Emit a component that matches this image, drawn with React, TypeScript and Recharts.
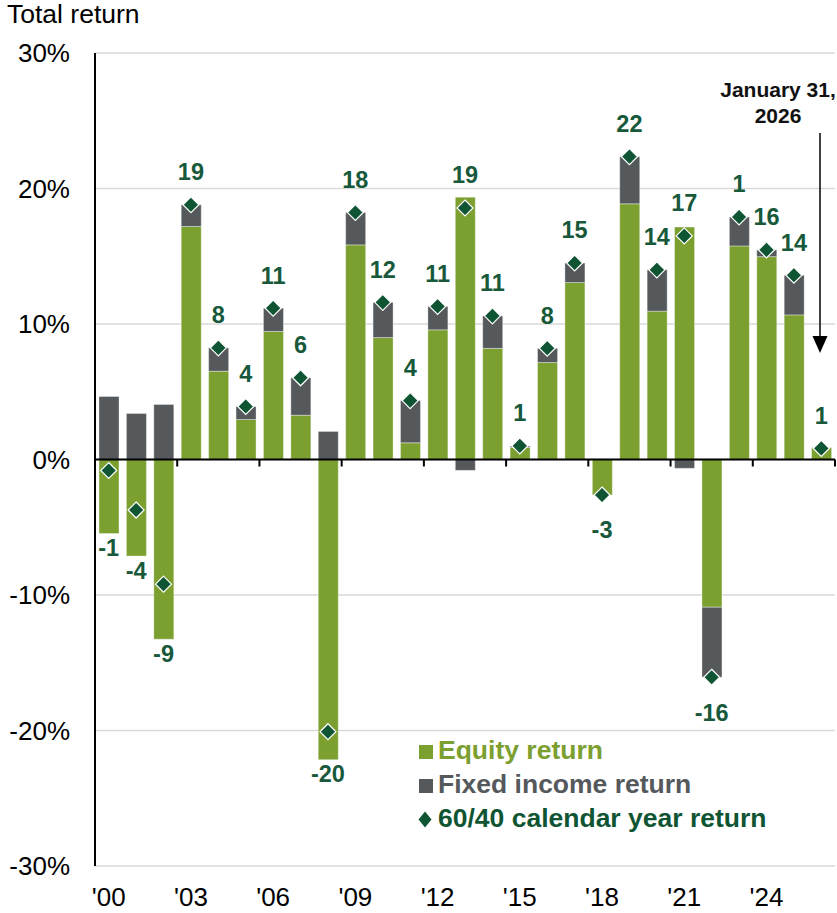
import React from 'react';
import { ComposedChart, Bar, Line, XAxis, YAxis, CartesianGrid, ReferenceLine } from 'recharts';

const years = [2000, 2001, 2002, 2003, 2004, 2005, 2006, 2007, 2008, 2009, 2010, 2011, 2012, 2013, 2014, 2015, 2016, 2017, 2018, 2019, 2020, 2021, 2022, 2023, 2024, 2025, 2026];
const equityReturn = [-5.46, -7.13, -13.26, 17.2, 6.52, 2.95, 9.45, 3.27, -22.16, 15.84, 9.0, 1.23, 9.57, 19.36, 8.2, 0.9, 7.16, 13.06, -2.62, 18.87, 10.95, 17.15, -10.9, 15.76, 14.97, 10.67, 0.87];
const fixedIncomeReturn = [4.65, 3.4, 4.06, 1.6, 1.72, 0.96, 1.72, 2.76, 2.07, 2.39, 2.6, 3.12, 1.73, -0.8, 2.4, 0.1, 1.05, 1.44, 0.0, 3.48, 3.05, -0.65, -5.17, 2.14, 0.5, 2.93, 0.0];
const portfolioReturn = [-0.81, -3.73, -9.2, 18.8, 8.24, 3.91, 11.17, 6.03, -20.09, 18.23, 11.6, 4.35, 11.3, 18.56, 10.6, 1.0, 8.21, 14.5, -2.62, 22.35, 14.0, 16.5, -16.07, 17.9, 15.47, 13.6, 0.82];
const returnLabels = ['-1', '-4', '-9', '19', '8', '4', '11', '6', '-20', '18', '12', '4', '11', '19', '11', '1', '8', '15', '-3', '22', '14', '17', '-16', '1', '16', '14', '1'];
const tickYears = [2000, 2003, 2006, 2009, 2012, 2015, 2018, 2021, 2024];
const tickLabels = ["'00", "'03", "'06", "'09", "'12", "'15", "'18", "'21", "'24"];
const yTicks = [-30, -20, -10, 0, 10, 20, 30];
const yTickLabels = ['-30%', '-20%', '-10%', '0%', '10%', '20%', '30%'];

const data = years.map((year, i) => ({
  year,
  equity: equityReturn[i],
  fixedIncome: fixedIncomeReturn[i],
  portfolio: portfolioReturn[i],
  label: returnLabels[i],
}));

const FONT = '"Liberation Sans", Arial, Helvetica, sans-serif';
const GREEN = '#7BA030';
const GRAY = '#55595C';
const DARK_GREEN = '#0F5533';
const LABEL_GREEN = '#17593A';

const W = 837;
const H = 913;
const MARGIN = { top: 53, right: 2, left: 0, bottom: 7 };
const Y_AXIS_W = 95;
const X_AXIS_H = 40;
const PLOT_H = H - MARGIN.top - MARGIN.bottom - X_AXIS_H;
const Y_MIN = -30;
const Y_MAX = 30;
const PX_PER_UNIT = PLOT_H / (Y_MAX - Y_MIN);

const renderDiamond = (props: any) => {
  const { cx, cy, index, payload } = props;
  if (cx == null || cy == null) return <g key={`d-${index}`} />;
  const r = 8;
  const total = payload.portfolio;
  let ly: number;
  if (total >= 0) {
    ly = cy - 33;
  } else {
    const barBottom = Math.min(0, payload.equity) + Math.min(0, payload.fixedIncome);
    const barBottomPx = cy + (total - barBottom) * PX_PER_UNIT;
    ly = Math.max(barBottomPx + 14, cy + 35);
  }
  return (
    <g key={`d-${index}`}>
      <path
        d={`M${cx},${cy - r} L${cx + r},${cy} L${cx},${cy + r} L${cx - r},${cy} Z`}
        fill={DARK_GREEN}
        stroke="#ffffff"
        strokeWidth={1.2}
      />
      <text
        x={cx}
        y={ly}
        dy="0.36em"
        textAnchor="middle"
        fontFamily={FONT}
        fontWeight="bold"
        fontSize={23.5}
        fill={LABEL_GREEN}
      >
        {payload.label}
      </text>
    </g>
  );
};

const XTick = (props: any) => {
  const { x, y, payload } = props;
  const idx = tickYears.indexOf(payload.value);
  if (idx < 0) return <g />;
  return (
    <text x={x} y={y + 40} textAnchor="middle" fontFamily={FONT} fontSize={26} fill="#000">
      {tickLabels[idx]}
    </text>
  );
};

const YTick = (props: any) => {
  const { x, y, payload } = props;
  const idx = yTicks.indexOf(payload.value);
  return (
    <text x={x - 25} y={y} dy="0.36em" textAnchor="end" fontFamily={FONT} fontSize={26} fill="#000">
      {idx >= 0 ? yTickLabels[idx] : ''}
    </text>
  );
};

const ZeroTicks = (props: any) => {
  const vb = props.viewBox || {};
  const { x, y, width } = vb;
  if (x == null) return null;
  const band = width / years.length;
  const marks = [];
  for (let i = 0; i <= years.length; i += 3) {
    marks.push(<line key={i} x1={x + i * band} x2={x + i * band} y1={y} y2={y + 7} stroke="#000" strokeWidth={2} />);
  }
  return <g>{marks}</g>;
};

export default function App() {
  return (
    <div style={{ position: 'absolute', left: 0, top: 0, width: W, height: H, background: '#fff' }}>
      <ComposedChart width={W} height={H} data={data} margin={MARGIN} stackOffset="sign" barSize={20}>
        <CartesianGrid horizontal vertical={false} stroke="#D9D9D9" strokeWidth={1.5} />
        <XAxis
          dataKey="year"
          interval={0}
          tickLine={false}
          axisLine={false}
          tickSize={0}
          tickMargin={0}
          height={X_AXIS_H}
          tick={<XTick />}
        />
        <YAxis
          type="number"
          domain={[Y_MIN, Y_MAX]}
          ticks={yTicks}
          width={Y_AXIS_W}
          tickLine={false}
          tickSize={0}
          tickMargin={0}
          axisLine={{ stroke: '#000', strokeWidth: 2 }}
          tick={<YTick />}
        />
        <Bar dataKey="equity" stackId="a" fill={GREEN} stroke="rgba(255,255,255,0.6)" strokeWidth={0.6} isAnimationActive={false} />
        <Bar dataKey="fixedIncome" stackId="a" fill={GRAY} stroke="rgba(255,255,255,0.6)" strokeWidth={0.6} isAnimationActive={false} />
        <ReferenceLine y={0} stroke="#000" strokeWidth={2} label={<ZeroTicks />} />
        <Line
          dataKey="portfolio"
          stroke="none"
          isAnimationActive={false}
          dot={renderDiamond}
          activeDot={false}
          legendType="none"
        />
      </ComposedChart>
      <svg width={W} height={H} style={{ position: 'absolute', left: 0, top: 0, pointerEvents: 'none' }}>
        <text x={7} y={23} fontFamily={FONT} fontSize={26.5} fill="#000">Total return</text>
        <text x={778} y={96.5} textAnchor="middle" fontFamily={FONT} fontWeight="bold" fontSize={21} fill="#111">January 31,</text>
        <text x={778} y={122.5} textAnchor="middle" fontFamily={FONT} fontWeight="bold" fontSize={21} fill="#111">2026</text>
        <line x1={820} x2={820} y1={133} y2={340} stroke="#000" strokeWidth={1.5} />
        <polygon points="812.5,336 827.5,336 820,353" fill="#000" />
        <rect x={419} y={745} width={14} height={14} fill={GREEN} />
        <text x={438} y={759} fontFamily={FONT} fontWeight="bold" fontSize={26.5} fill={GREEN}>Equity return</text>
        <rect x={419} y={779} width={14} height={14} fill={GRAY} />
        <text x={438} y={793} fontFamily={FONT} fontWeight="bold" fontSize={26.5} fill={GRAY}>Fixed income return</text>
        <path d="M425,811.5 L431.5,819.5 L425,827.5 L418.5,819.5 Z" fill={DARK_GREEN} />
        <text x={438} y={827} fontFamily={FONT} fontWeight="bold" fontSize={26.5} fill={DARK_GREEN}>60/40 calendar year return</text>
      </svg>
    </div>
  );
}
